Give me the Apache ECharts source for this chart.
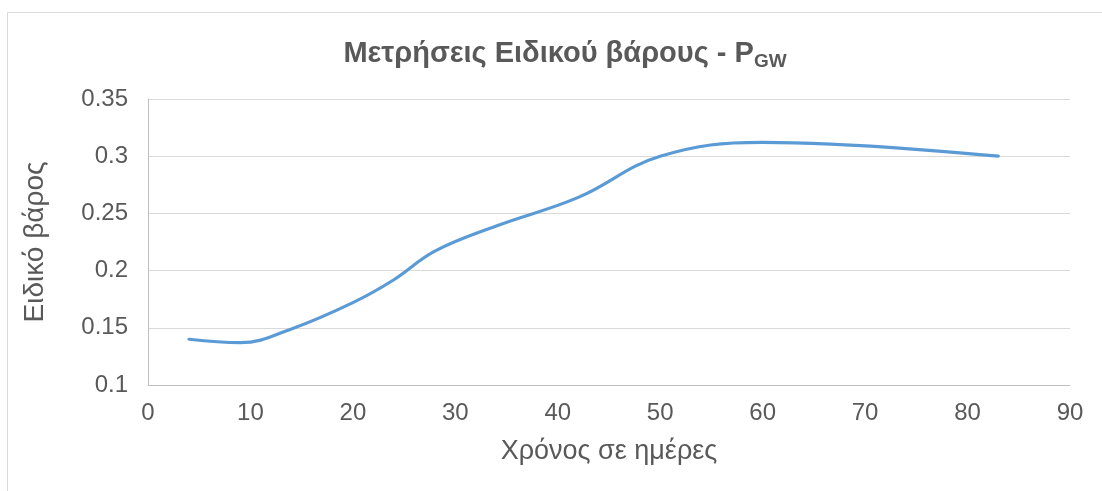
<!DOCTYPE html>
<html>
<head>
<meta charset="utf-8">
<script src="https://cdn.jsdelivr.net/npm/echarts@6/dist/echarts.min.js"></script>
<style>
  html, body { margin: 0; padding: 0; background: #fff; }
  #chart { width: 1102px; height: 491px; }
</style>
</head>
<body>
<div id="chart"></div>
<script>
// Specific gravity measurements over time (days)
const days = [4, 9, 14, 20, 24, 28, 34, 42, 50, 60, 83];
const gravity = [0.14, 0.137, 0.149, 0.172, 0.192, 0.217, 0.239, 0.264, 0.300, 0.312, 0.300];
const xTicks = [0, 10, 20, 30, 40, 50, 60, 70, 80, 90];
const yTicks = [0.1, 0.15, 0.2, 0.25, 0.3, 0.35];

const titleMain = 'Μετρήσεις Ειδικού βάρους - P';
const titleSub = 'GW';
const xName = 'Χρόνος σε ημέρες';
const yName = 'Ειδικό βάρος';

const grey = '#595959';
const font = '"Liberation Sans", Arial, sans-serif';

const chart = echarts.init(document.getElementById('chart'), null, { renderer: 'canvas' });

chart.setOption({
  animation: false,
  backgroundColor: '#fff',
  textStyle: { fontFamily: font },
  graphic: [
    {
      type: 'rect',
      shape: { x: 7.5, y: 12.5, width: 1200, height: 600 },
      style: { fill: 'none', stroke: '#d9d9d9', lineWidth: 1 },
      silent: true,
      z: -1
    }
  ],
  title: {
    text: '{m|' + titleMain + '}{s|' + titleSub + '}',
    left: 560,
    top: 32,
    textAlign: 'center',
    textStyle: {
      rich: {
        m: { fontFamily: font, fontSize: 29, fontWeight: 'bold', color: grey, lineHeight: 34 },
        s: { fontFamily: font, fontSize: 19, fontWeight: 'bold', color: grey, padding: [16, 0, 0, 0], lineHeight: 34 }
      }
    }
  },
  grid: { left: 148, right: 32, top: 99, bottom: 106, containLabel: false },
  xAxis: {
    type: 'value',
    min: xTicks[0],
    max: xTicks[xTicks.length - 1],
    interval: 10,
    name: xName,
    nameLocation: 'middle',
    nameGap: 53,
    nameTextStyle: { fontFamily: font, fontSize: 27, color: grey },
    axisLine: { show: true, lineStyle: { color: '#bfbfbf', width: 1 } },
    axisTick: { show: false },
    axisLabel: { fontFamily: font, fontSize: 24, color: grey, margin: 16 },
    splitLine: { show: false }
  },
  yAxis: {
    type: 'value',
    min: yTicks[0],
    max: yTicks[yTicks.length - 1],
    interval: 0.05,
    name: yName,
    nameLocation: 'middle',
    nameGap: 99,
    nameRotate: 90,
    nameTextStyle: { fontFamily: font, fontSize: 28, color: grey },
    axisLine: { show: true, lineStyle: { color: '#bfbfbf', width: 1 } },
    axisTick: { show: false },
    axisLabel: {
      fontFamily: font, fontSize: 24, color: grey, margin: 20,
      formatter: v => String(parseFloat(v.toFixed(2)))
    },
    splitLine: { show: true, lineStyle: { color: '#d9d9d9', width: 1 } }
  },
  series: [
    {
      type: 'line',
      data: days.map((d, i) => [d, gravity[i]]),
      smooth: 0.4,
      showSymbol: false,
      lineStyle: { color: '#5b9bd5', width: 3.2, cap: 'round' },
      itemStyle: { color: '#5b9bd5' }
    }
  ]
});
</script>
</body>
</html>
